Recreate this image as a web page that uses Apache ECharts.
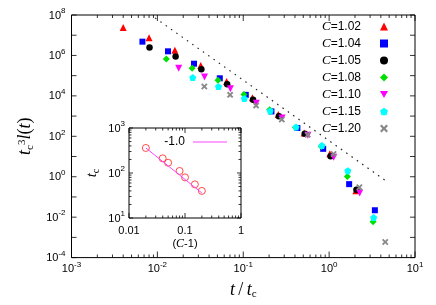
<!DOCTYPE html>
<html><head><meta charset="utf-8">
<script src="https://cdn.jsdelivr.net/npm/echarts@6/dist/echarts.min.js"></script>
<style>html,body{margin:0;padding:0;background:#fff}#c{width:436px;height:305px}</style>
</head><body><div id="c"></div>
<script>
// ---- data ----
const seriesNames = ['C=1.02','C=1.04','C=1.05','C=1.08','C=1.10','C=1.15','C=1.20'];
const x102 = [0.004, 0.008, 0.016, 0.032, 0.064, 0.128, 0.256, 0.512, 1.02, 2.05];
const y102 = [2.4e7, 7.5e6, 1.8e6, 3.2e5, 5.1e4, 8.0e3, 1.2e3, 147, 13.9, 0.205];
const x104 = [0.0067, 0.0133, 0.0267, 0.0533, 0.107, 0.213, 0.427, 0.853, 1.71, 3.41];
const y104 = [4.8e6, 1.6e6, 3.9e5, 7.4e4, 1.12e4, 1.7e3, 257, 24, 0.43, 0.022];
const x105 = [0.0081, 0.0163, 0.0325, 0.065, 0.13, 0.26, 0.52, 1.04, 2.08];
const y105 = [2.5e6, 8.8e5, 2.1e5, 3.8e4, 6.4e3, 970, 132, 10.3, 0.23];
const x108 = [0.0127, 0.0254, 0.0508, 0.102, 0.203, 0.406, 0.813, 1.63, 3.25];
const y108 = [6.6e5, 2.3e5, 5.9e4, 1.16e4, 2.05e3, 272, 31, 1.03, 0.0059];
const x110 = [0.0177, 0.0354, 0.0708, 0.142, 0.283, 0.566, 1.13, 2.27];
const y110 = [2.3e5, 8.5e4, 2.25e4, 4.3e3, 805, 112, 9.2, 0.157];
const x115 = [0.0258, 0.0515, 0.103, 0.206, 0.412, 0.824, 1.65, 3.3];
const y115 = [8.0e4, 2.9e4, 7.4e3, 1.8e3, 287, 35, 2.0, 0.0095];
const x120 = [0.0352, 0.0703, 0.141, 0.281, 0.563, 1.125, 2.25, 4.5];
const y120 = [2.9e4, 1.12e4, 3.3e3, 675, 118, 13.3, 0.3, 5.9e-4];
const slopeX = [0.0094, 4.5];
const slopeY = [7.2e7, 0.66];
// inset
const insetX = [0.02, 0.04, 0.05, 0.08, 0.1, 0.15, 0.2];
const insetY = [360, 212, 169, 111, 80, 56, 40];
const fitName = '-1.0';
const fitX = [0.02, 0.2];
const fitY = [360, 36];
// tick values (decades)
const mainXTicks = [0.001, 0.01, 0.1, 1, 10];
const mainYTicks = [1e-4, 1e-3, 1e-2, 1e-1, 1, 10, 100, 1e3, 1e4, 1e5, 1e6, 1e7, 1e8];
const insetXTicks = [0.01, 0.1, 1];
const insetYTicks = [10, 100, 1000];

// ---- styling ----
const FONT = 'Liberation Sans';
const SERIF = 'Liberation Serif';
const pair = (xs, ys) => xs.map((x, i) => [x, ys[i]]);
function minors(decades) { const o = []; for (let k = 0; k < decades.length - 1; k++) for (let m = 2; m <= 9; m++) o.push(+(m * decades[k]).toPrecision(3)); return o; }
const supRich = {
  b: {fontSize: 11, fontFamily: FONT, color: '#000', lineHeight: 12, verticalAlign: 'bottom'},
  s: {fontSize: 8, fontFamily: FONT, color: '#000', lineHeight: 8, padding: [0, 0, 8, 0]}
};
function supFmt(onlyEven) {
  return function (v) { const e = Math.round(Math.log10(v)); if (onlyEven && e % 2 !== 0) return ''; return '{b|10}{s|' + e + '}'; };
}
function labelAxis(grid, pos, min, max, label, extra) {
  return Object.assign({
    type: 'log', gridIndex: grid, position: pos, min: min, max: max, interval: 1,
    axisLine: {show: false}, axisTick: {show: false},
    axisLabel: label, splitLine: {show: false}, minorTick: {show: false}
  }, extra || {});
}
const titleRich = {
  i: {fontFamily: SERIF, fontStyle: 'italic', fontSize: 18, color: '#000'},
  r: {fontFamily: SERIF, fontSize: 18, color: '#000'},
  c: {fontFamily: SERIF, fontSize: 11, color: '#000', padding: [8, 0, 0, 0]},
  s: {fontFamily: SERIF, fontSize: 11, color: '#000', padding: [0, 0, 8, 0]}
};
const insetTitleRich = {
  i: {fontFamily: SERIF, fontStyle: 'italic', fontSize: 15, color: '#000'},
  c: {fontFamily: SERIF, fontSize: 10, color: '#000', padding: [7, 0, 0, 0]},
  ci: {fontFamily: SERIF, fontStyle: 'italic', fontSize: 12, color: '#000'},
  r: {fontFamily: FONT, fontSize: 11, color: '#000'}
};

const symbols = [
  'triangle', 'rect', 'circle', 'diamond',
  'path://M0,0 L10,0 L5,9 Z',
  'path://M5,0 L9.76,3.45 L7.94,9.05 L2.06,9.05 L0.24,3.45 Z',
  'path://M0,2 L2,0 L5,3 L8,0 L10,2 L7,5 L10,8 L8,10 L5,7 L2,10 L0,8 L3,5 Z'
];
const sizes = [7, 6, 6.5, 7, 7, 7, 6.5];
const colors = ['#ff0000', '#0000ff', '#000000', '#00e000', '#ff00ff', '#00ffff', '#888888'];
const xs = [x102, x104, x105, x108, x110, x115, x120];
const ys = [y102, y104, y105, y108, y110, y115, y120];

const series = seriesNames.map((n, k) => ({
  name: n, type: 'scatter', xAxisIndex: 0, yAxisIndex: 0,
  symbol: symbols[k], symbolSize: sizes[k],
  itemStyle: {color: colors[k], opacity: 1},
  data: pair(xs[k], ys[k])
}));
series.unshift({
  name: 'slope', type: 'line', xAxisIndex: 0, yAxisIndex: 0, symbol: 'none', silent: true,
  lineStyle: {color: '#222', width: 1.2, type: [1.5, 5]},
  data: pair(slopeX, slopeY)
});
series.push({
  name: fitName, type: 'line', xAxisIndex: 1, yAxisIndex: 1, symbol: 'none',
  itemStyle: {color: '#ff44ff'},
  lineStyle: {color: '#ff44ff', width: 1},
  data: pair(fitX, fitY)
});
series.push({
  name: 'tc', type: 'scatter', xAxisIndex: 1, yAxisIndex: 1, symbol: 'circle', symbolSize: 7,
  itemStyle: {color: 'rgba(0,0,0,0)', borderColor: '#ff2020', borderWidth: 1},
  data: pair(insetX, insetY)
});

// inward tick marks on all four sides of both frames, placed through the axes' own scales
function ticks(ax, pts, size, offset) {
  series.push({type: 'scatter', xAxisIndex: ax, yAxisIndex: ax, silent: true, clip: false,
    symbol: 'rect', symbolSize: size, symbolOffset: offset,
    itemStyle: {color: '#000'}, data: pts, z: 5});
}
function frameTicks(ax, xT, yT, xMin, xMax, yMin, yMax, major, minor) {
  const xm = minors(xT), ym = minors(yT);
  ticks(ax, xT.map(v => [v, yMin]), [1, major], [0, -major / 2]);
  ticks(ax, xT.map(v => [v, yMax]), [1, major], [0, major / 2]);
  ticks(ax, xm.map(v => [v, yMin]), [1, minor], [0, -minor / 2]);
  ticks(ax, xm.map(v => [v, yMax]), [1, minor], [0, minor / 2]);
  ticks(ax, yT.map(v => [xMin, v]), [major - 1, 1], [(major - 1) / 2, 0]);
  ticks(ax, yT.map(v => [xMax, v]), [major - 1, 1], [-(major - 1) / 2, 0]);
  if (ax === 1) {
    ticks(ax, ym.map(v => [xMin, v]), [minor, 1], [minor / 2, 0]);
    ticks(ax, ym.map(v => [xMax, v]), [minor, 1], [-minor / 2, 0]);
  }
}
frameTicks(0, mainXTicks, mainYTicks, 0.001, 10, 1e-4, 1e8, 6, 3);
frameTicks(1, insetXTicks, insetYTicks, 0.01, 1, 10, 1000, 5, 2.5);

const option = {
  animation: false,
  backgroundColor: '#fff',
  grid: [
    {left: 71.5, right: 21, top: 15, bottom: 41, show: true, borderColor: '#000', borderWidth: 1},
    {left: 129, top: 128, width: 112, height: 90, show: true, borderColor: '#000', borderWidth: 1}
  ],
  legend: [
    {
      data: seriesNames, orient: 'vertical', right: 48, top: 20, padding: 0,
      itemWidth: 8, itemHeight: 8, itemGap: 4, align: 'right', selectedMode: false,
      textStyle: {fontSize: 12, fontFamily: FONT, color: '#000', padding: [0, 14, 0, 0],
        rich: {i: {fontFamily: SERIF, fontStyle: 'italic', fontSize: 13, color: '#000'}}},
      formatter: n => '{i|C}' + n.slice(1)
    },
    {
      data: [fitName], right: 209, top: 136, padding: 0, icon: 'rect',
      itemWidth: 34, itemHeight: 1.2, align: 'right', selectedMode: false,
      textStyle: {fontSize: 12, fontFamily: FONT, color: '#000', padding: [0, 3, 0, 0]}
    }
  ],
  xAxis: [
    labelAxis(0, 'bottom', 0.001, 10, {show: true, margin: 5, formatter: supFmt(false), rich: supRich},
      {name: '{i|t} {r|/} {i|t}{c|c}', nameLocation: 'middle', nameGap: 22, nameTextStyle: {rich: titleRich}}),
    labelAxis(1, 'bottom', 0.01, 1, {show: true, margin: 7, fontSize: 11, fontFamily: FONT, color: '#000',
      formatter: v => String(+v.toPrecision(2))},
      {name: '({ci|C}-1)', nameLocation: 'middle', nameGap: 20, nameTextStyle: {rich: insetTitleRich, fontFamily: FONT, fontSize: 11, color: '#000'}})
  ],
  yAxis: [
    labelAxis(0, 'left', 1e-4, 1e8, {show: true, margin: 6, formatter: supFmt(true), rich: supRich},
      {name: '{i|t}{c|c}{s|3}{i|l}{r|(}{i|t}{r|)}', nameLocation: 'middle', nameGap: 36, nameTextStyle: {rich: titleRich}}),
    labelAxis(1, 'left', 10, 1000, {show: true, margin: 4, formatter: supFmt(false), rich: supRich},
      {name: '{i|t}{c|c}', nameLocation: 'middle', nameGap: 28, nameTextStyle: {rich: insetTitleRich}})
  ],
  series: series
};
const chart = echarts.init(document.getElementById('c'), null, {renderer: 'canvas'});
chart.setOption(option);
</script>
</body></html>
